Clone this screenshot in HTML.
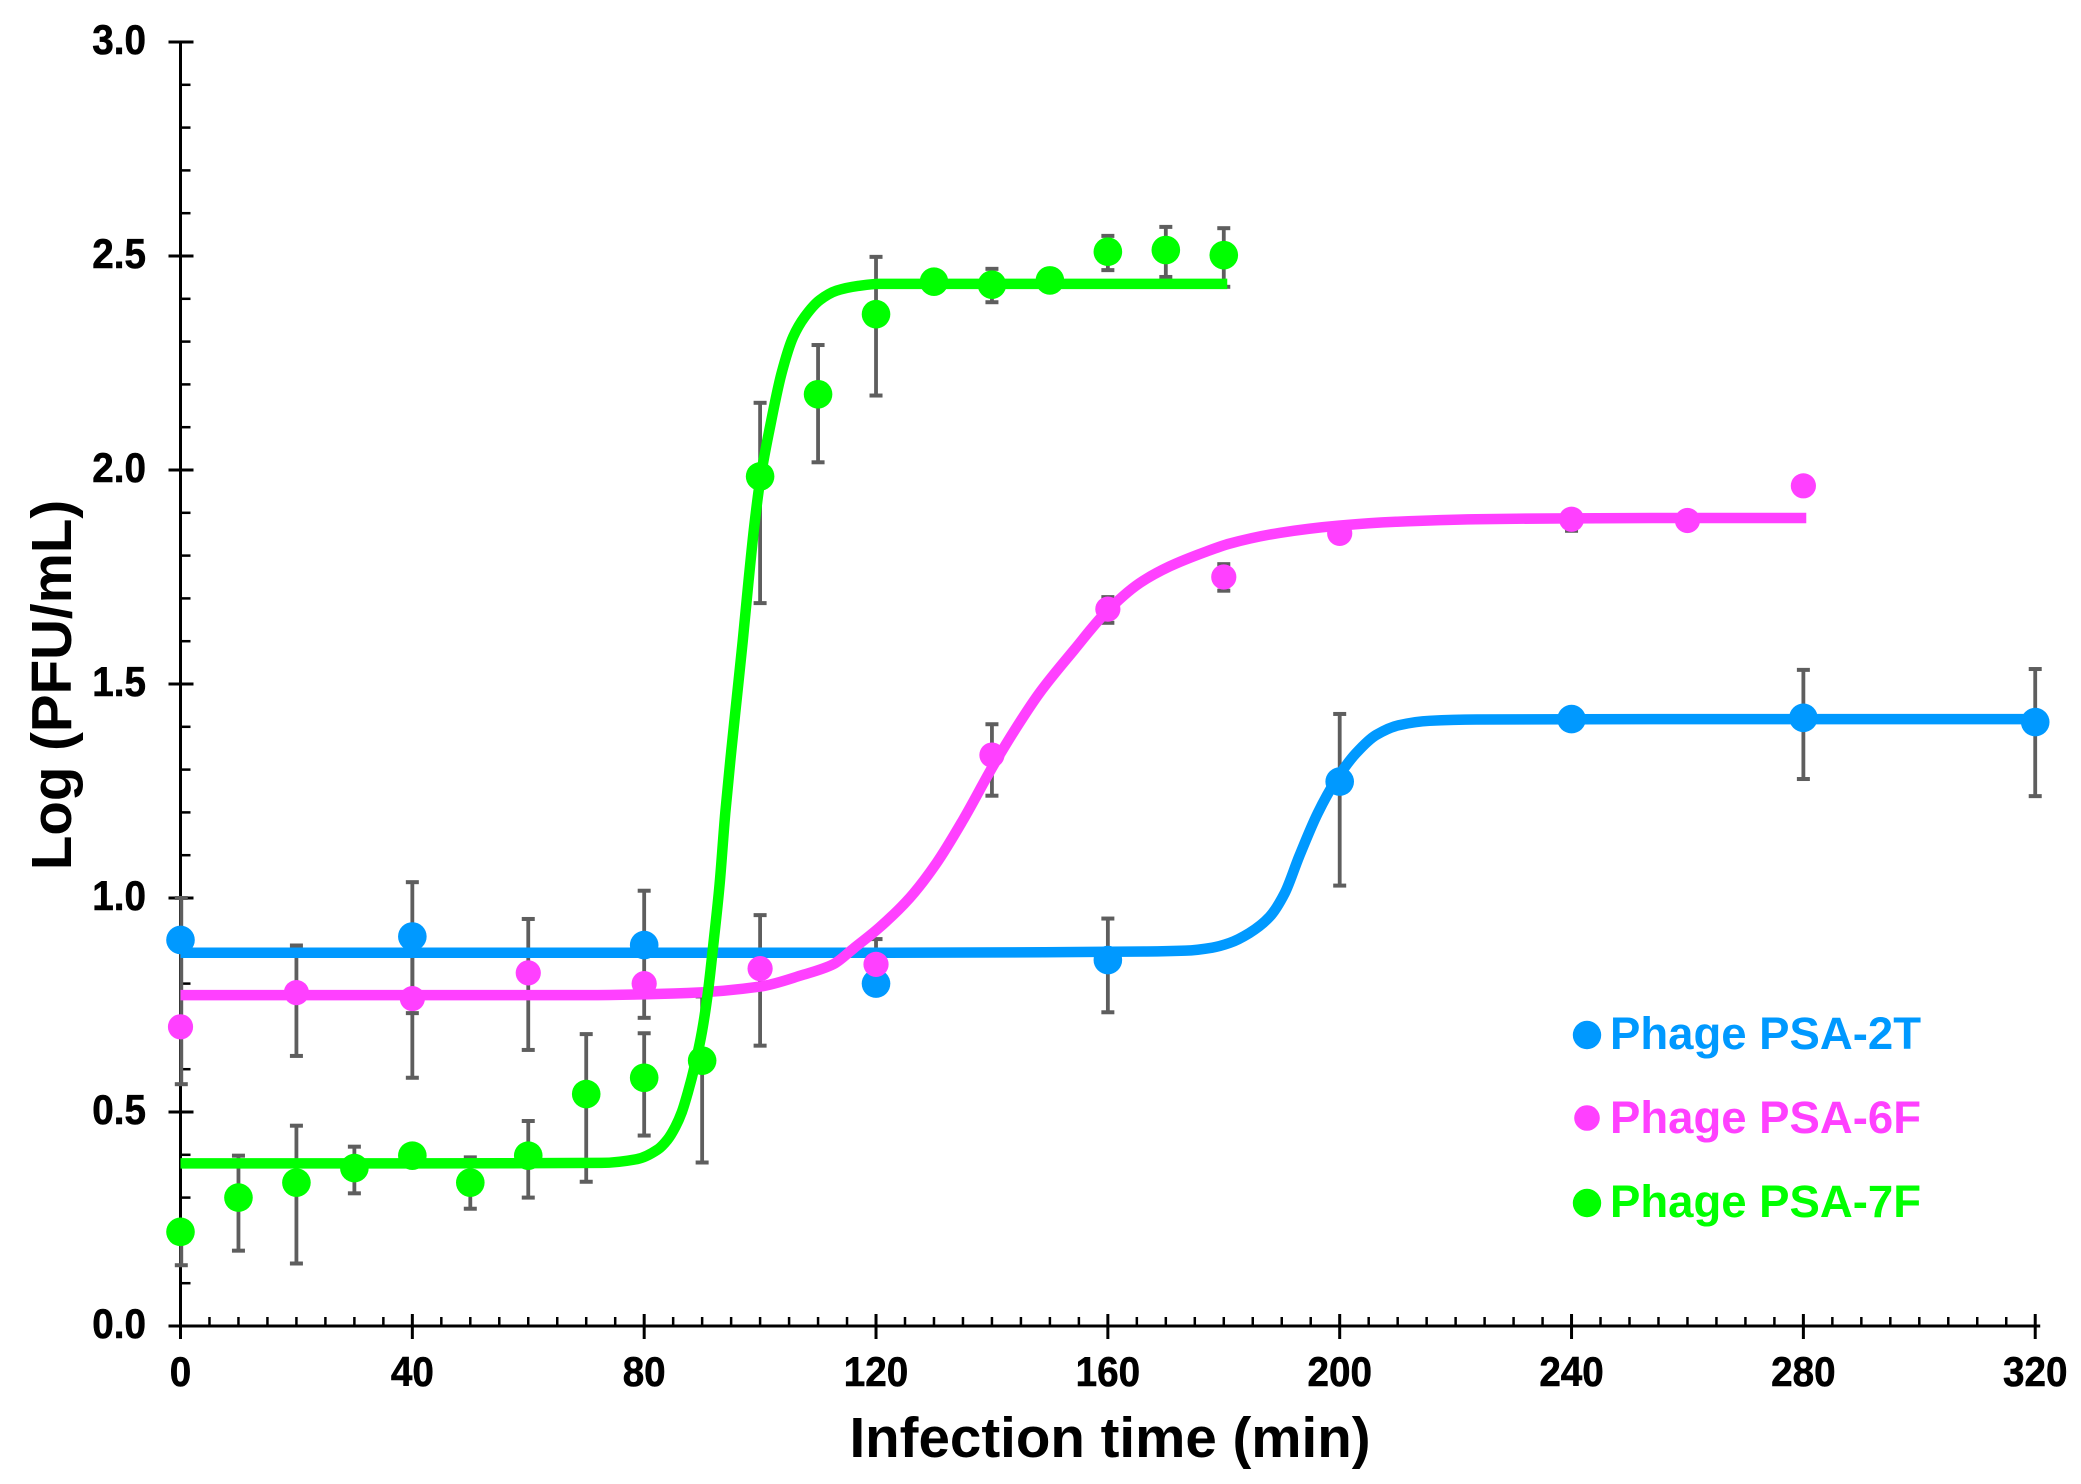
<!DOCTYPE html>
<html>
<head>
<meta charset="utf-8">
<title>Phage one-step growth curves</title>
<style>
  html, body { margin: 0; padding: 0; background: #fff; }
  svg { display: block; }
  text { font-family: "Liberation Sans", Arial, sans-serif; font-weight: bold; }
</style>
</head>
<body>
<svg id="chart" xmlns="http://www.w3.org/2000/svg" width="2081" height="1484" viewBox="0 0 2081 1484">
  <rect x="0" y="0" width="2081" height="1484" fill="#ffffff"/>
  <g id="error-layer"></g>
  <g id="axis-layer"></g>
  <g id="error-axis-layer"></g>
  <g id="curve-layer"></g>
  <g id="point-layer"></g>

  <text x="1110" y="1457" font-size="56.5" text-anchor="middle" fill="#000">Infection time (min)</text>
  <text transform="translate(71,685) rotate(-90)" font-size="56.5" text-anchor="middle" fill="#000">Log (PFU/mL)</text>

  <g>
    <g>
      <circle cx="1587" cy="1035" r="14.2" fill="#0099ff"/>
      <text x="1610" y="1049" font-size="45.5" fill="#0099ff">Phage PSA-2T</text>
    </g>
    <g>
      <circle cx="1587" cy="1118" r="12.8" fill="#ff40ff"/>
      <text x="1610" y="1133" font-size="45.5" fill="#ff40ff">Phage PSA-6F</text>
    </g>
    <g>
      <circle cx="1587" cy="1203" r="14.2" fill="#00ff00"/>
      <text x="1610" y="1217" font-size="45.5" fill="#00ff00">Phage PSA-7F</text>
    </g>
  </g>
</svg>

<script>
// ---- Tick labels ----
var xTickLabels = ['0', '40', '80', '120', '160', '200', '240', '280', '320'];
var yTickLabels = ['0.0', '0.5', '1.0', '1.5', '2.0', '2.5', '3.0'];

// ---- Phage PSA-2T (blue) ----
var blueTimes   = [0, 40, 80, 120, 160, 200, 240, 280, 320];
var blueValues  = [0.902, 0.91, 0.89, 0.80, 0.855, 1.272, 1.418, 1.421, 1.411];
var blueErrHigh = [1.00, 1.037, 1.017, null, 0.952, 1.43, 1.43, 1.533, 1.535];
var blueErrLow  = [0.90, 0.731, 0.72, null, 0.733, 1.029, 1.40, 1.278, 1.238];
var blueCurveTimes  = [0, 60, 120, 166.7, 173.4, 178, 181, 184.4, 187.9, 190.5, 193, 196.2, 199.4, 202.8, 206.3, 210.3, 215.5, 223.6, 260, 320];
var blueCurveValues = [0.872, 0.872, 0.872, 0.875, 0.877, 0.884, 0.895, 0.918, 0.956, 1.011, 1.097, 1.198, 1.276, 1.338, 1.381, 1.404, 1.414, 1.417, 1.418, 1.418];

// ---- Phage PSA-6F (magenta) ----
var magentaTimes   = [0, 20, 40, 60, 80, 100, 120, 140, 160, 180, 200, 240, 260, 280];
var magentaValues  = [0.699, 0.779, 0.765, 0.825, 0.80, 0.835, 0.845, 1.334, 1.675, 1.75, 1.852, 1.885, 1.882, 1.963];
var magentaErrHigh = [0.90, 0.889, 0.90, 0.951, 0.82, 0.96, 0.904, 1.406, 1.703, 1.78, null, 1.905, null, null];
var magentaErrLow  = [0.565, 0.631, 0.58, 0.645, 0.78, 0.655, 0.79, 1.239, 1.643, 1.718, null, 1.858, null, null];
var magentaCurveTimes  = [0, 40, 70, 87.5, 100, 107.3, 112.6, 116.2, 120.5, 125.8, 130.4, 135, 140.3, 144.3, 148.2, 154.2, 159.5, 165.4, 170.7, 176.7, 181, 189.6, 199.9, 209.7, 223.5, 239.6, 260, 280.5];
var magentaCurveValues = [0.773, 0.773, 0.773, 0.778, 0.793, 0.82, 0.845, 0.883, 0.93, 1.0, 1.081, 1.182, 1.311, 1.40, 1.479, 1.58, 1.665, 1.735, 1.775, 1.808, 1.828, 1.853, 1.870, 1.879, 1.885, 1.887, 1.888, 1.888];

// ---- Phage PSA-7F (green) ----
var greenTimes   = [0, 10, 20, 30, 40, 50, 60, 70, 80, 90, 100, 110, 120, 130, 140, 150, 160, 170, 180];
var greenValues  = [0.22, 0.30, 0.335, 0.369, 0.398, 0.335, 0.398, 0.542, 0.58, 0.62, 1.985, 2.177, 2.364, 2.44, 2.433, 2.443, 2.51, 2.514, 2.502];
var greenErrHigh = [0.24, 0.398, 0.468, 0.419, 0.41, 0.394, 0.479, 0.682, 0.684, 0.77, 2.157, 2.292, 2.498, null, 2.47, null, 2.547, 2.568, 2.565];
var greenErrLow  = [0.142, 0.176, 0.146, 0.31, 0.38, 0.274, 0.30, 0.337, 0.445, 0.382, 1.689, 2.018, 2.174, null, 2.392, null, 2.467, 2.451, 2.428];
var greenCurveTimes  = [0, 40, 72.6, 78.8, 82.3, 84, 85.4, 86.5, 87.5, 88.8, 90, 91, 92, 93, 94, 95, 96, 97, 98, 99, 100, 101.7, 103.7, 105.7, 107.7, 110.3, 113.2, 116.9, 120.5, 150, 180.6];
var greenCurveValues = [0.38, 0.38, 0.381, 0.39, 0.412, 0.435, 0.466, 0.50, 0.544, 0.612, 0.69, 0.78, 0.90, 1.03, 1.20, 1.34, 1.47, 1.60, 1.74, 1.87, 1.975, 2.10, 2.226, 2.311, 2.358, 2.397, 2.419, 2.43, 2.435, 2.435, 2.435];

// ---- Axis functions ----
var X0 = 180.5, X_PER_MIN = 5.796;
var Y0 = 1326, Y_PER_UNIT = 428;
function xPos(t) { return X0 + t * X_PER_MIN; }
function yPos(v) { return Y0 - v * Y_PER_UNIT; }

var NS = 'http://www.w3.org/2000/svg';
var ERR_COLOR = '#5e5e5e';
function mk(tag, attrs, parent) {
  var el = document.createElementNS(NS, tag);
  for (var k in attrs) el.setAttribute(k, attrs[k]);
  parent.appendChild(el);
  return el;
}

// ---- Axes ----
var axisLayer = document.getElementById('axis-layer');
var xAxisMax = parseFloat(xTickLabels[xTickLabels.length - 1]);
var yAxisMax = parseFloat(yTickLabels[yTickLabels.length - 1]);

var xLine = mk('line', { x1: X0 - 12, x2: xPos(xAxisMax) + 5, y1: Y0, y2: Y0, stroke: '#000', 'stroke-width': 3 }, axisLayer);



var yLine = mk('line', { x1: X0, x2: X0, y1: yPos(yAxisMax) - 1, y2: Y0 + 12, stroke: '#000', 'stroke-width': 3 }, axisLayer);



for (var t = 0; t <= xAxisMax; t += 5) {
  if (t % 40 === 0) continue;
  var xMinor = mk('line', { x1: xPos(t), x2: xPos(t), y1: Y0 - 9, y2: Y0, stroke: '#000', 'stroke-width': 2.5 }, axisLayer);
  
  
}
for (var m = 0; m <= 30; m++) {
  if (m % 5 === 0) continue;
  var yMinor = mk('line', { x1: X0, x2: X0 + 10, y1: yPos(m / 10), y2: yPos(m / 10), stroke: '#000', 'stroke-width': 2.5 }, axisLayer);
  
  
}
xTickLabels.forEach(function (label) {
  var v = parseFloat(label);
  var tick = mk('line', { x1: xPos(v), x2: xPos(v), y1: Y0 - 12, y2: Y0 + 13, stroke: '#000', 'stroke-width': 3 }, axisLayer);
  
  
  var txt = mk('text', { transform: 'translate(' + xPos(v) + ',1386) scale(0.92,1)', 'font-size': 42, 'text-anchor': 'middle', fill: '#000', stroke: '#000', 'stroke-width': 0.6 }, axisLayer);
  
  
  txt.textContent = label;
});
yTickLabels.forEach(function (label) {
  var v = parseFloat(label);
  var tick = mk('line', { x1: X0 - 12, x2: X0 + 13, y1: yPos(v), y2: yPos(v), stroke: '#000', 'stroke-width': 3 }, axisLayer);
  
  
  var txt = mk('text', { transform: 'translate(146,' + (yPos(v) + 12) + ') scale(0.92,1)', 'font-size': 42, 'text-anchor': 'end', fill: '#000', stroke: '#000', 'stroke-width': 0.6 }, axisLayer);
  
  
  txt.textContent = label;
});

// ---- Error bars ----
function drawErrors(times, high, low, name) {
  times.forEach(function (t, i) {
    if (high[i] === null || low[i] === null) return;
    var parent = document.getElementById(t === 0 ? 'error-axis-layer' : 'error-layer');
    var x = xPos(t) + (t === 0 ? 0.8 : 0);
    var stem = mk('line', { x1: x, x2: x, y1: yPos(high[i]), y2: yPos(low[i]), stroke: ERR_COLOR, 'stroke-width': 3.8 }, parent);
    
    
    var capTop = mk('line', { x1: x - 6.5, x2: x + 6.5, y1: yPos(high[i]), y2: yPos(high[i]), stroke: ERR_COLOR, 'stroke-width': 4 }, parent);
    
    
    var capBottom = mk('line', { x1: x - 6.5, x2: x + 6.5, y1: yPos(low[i]), y2: yPos(low[i]), stroke: ERR_COLOR, 'stroke-width': 4 }, parent);
    
    
  });
}
drawErrors(blueTimes, blueErrHigh, blueErrLow, 'psa-2t');
drawErrors(magentaTimes, magentaErrHigh, magentaErrLow, 'psa-6f');
drawErrors(greenTimes, greenErrHigh, greenErrLow, 'psa-7f');

// ---- Fit curves: monotone cubic through the sampled readings ----
function curvePath(times, values) {
  var n = times.length, slopes = [], tangents = [];
  for (var i = 0; i < n - 1; i++) {
    slopes.push((values[i + 1] - values[i]) / (times[i + 1] - times[i]));
  }
  tangents.push(slopes[0]);
  for (var j = 1; j < n - 1; j++) {
    var s0 = slopes[j - 1], s1 = slopes[j];
    if (s0 <= 0 || s1 <= 0) { tangents.push(0); continue; }
    var h0 = times[j] - times[j - 1], h1 = times[j + 1] - times[j];
    var w1 = 2 * h1 + h0, w2 = h1 + 2 * h0;
    tangents.push((w1 + w2) / (w1 / s0 + w2 / s1));
  }
  tangents.push(slopes[n - 2]);
  var d = 'M' + xPos(times[0]).toFixed(2) + ' ' + yPos(values[0]).toFixed(2);
  for (var k = 0; k < n - 1; k++) {
    var h = times[k + 1] - times[k];
    d += 'C' + xPos(times[k] + h / 3).toFixed(2) + ' ' + yPos(values[k] + tangents[k] * h / 3).toFixed(2) + ' ' +
         xPos(times[k + 1] - h / 3).toFixed(2) + ' ' + yPos(values[k + 1] - tangents[k + 1] * h / 3).toFixed(2) + ' ' +
         xPos(times[k + 1]).toFixed(2) + ' ' + yPos(values[k + 1]).toFixed(2);
  }
  return d;
}
var curveLayer = document.getElementById('curve-layer');
var blueCurve = mk('path', { d: curvePath(blueCurveTimes, blueCurveValues), fill: 'none', stroke: '#0099ff', 'stroke-width': 10.5, 'stroke-linejoin': 'round' }, curveLayer);


var magentaCurve = mk('path', { d: curvePath(magentaCurveTimes, magentaCurveValues), fill: 'none', stroke: '#ff40ff', 'stroke-width': 10.5, 'stroke-linejoin': 'round' }, curveLayer);


var greenCurve = mk('path', { d: curvePath(greenCurveTimes, greenCurveValues), fill: 'none', stroke: '#00ff00', 'stroke-width': 10.5, 'stroke-linejoin': 'round' }, curveLayer);



// ---- Points ----
function drawPoints(times, values, color, radius, name) {
  var parent = document.getElementById('point-layer');
  times.forEach(function (t, i) {
    var pt = mk('circle', { cx: xPos(t), cy: yPos(values[i]), r: radius, fill: color }, parent);
    
    
  });
}
drawPoints(blueTimes, blueValues, '#0099ff', 14.3, 'psa-2t');
drawPoints(magentaTimes, magentaValues, '#ff40ff', 12.6, 'psa-6f');
drawPoints(greenTimes, greenValues, '#00ff00', 14.3, 'psa-7f');
</script>
</body>
</html>
